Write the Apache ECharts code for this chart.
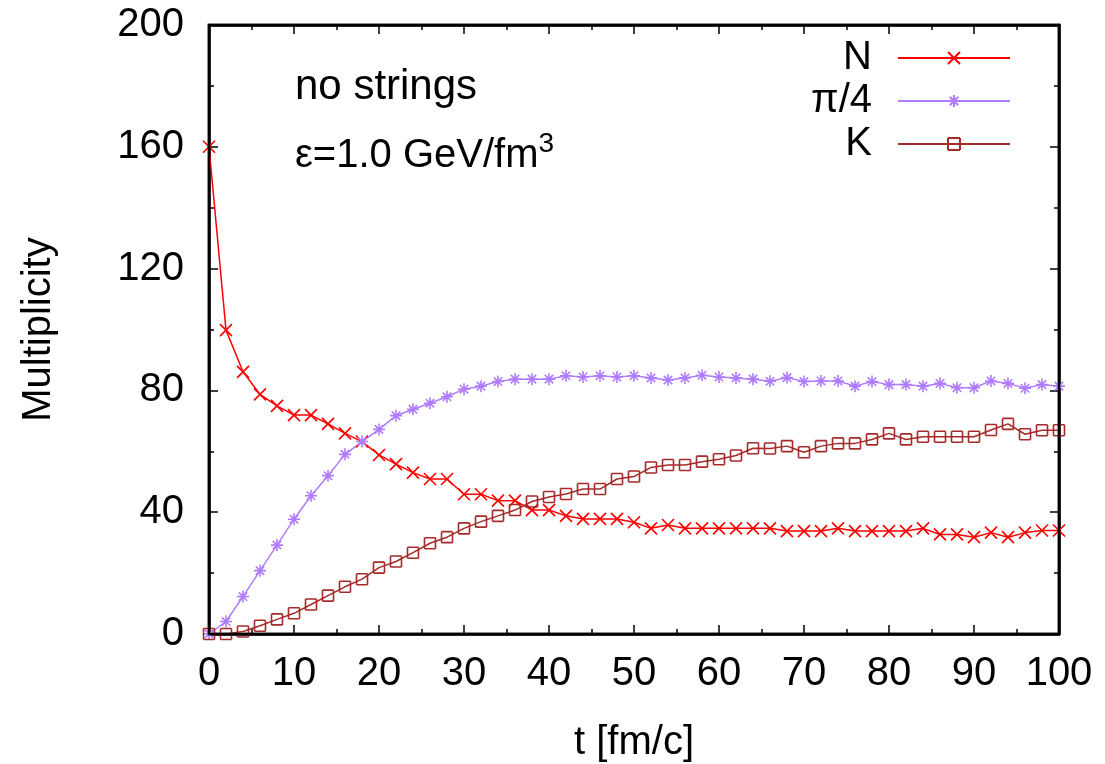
<!DOCTYPE html>
<html><head><meta charset="utf-8">
<script src="https://cdn.jsdelivr.net/npm/echarts@6/dist/echarts.min.js"></script>
<style>html,body{margin:0;padding:0;background:#fff}#c{width:1105px;height:764px;background:#fff}</style>
</head><body><div id="c"></div>
<script>
const tValues = [0,2,4,6,8,10,12,14,16,18,20,22,24,26,28,30,32,34,36,38,40,42,44,46,48,50,52,54,56,58,60,62,64,66,68,70,72,74,76,78,80,82,84,86,88,90,92,94,96,98,100];
const nValues = [160,99.8,86.1,78.7,74.9,71.9,71.9,69.0,65.9,63.2,58.8,55.8,53.0,50.9,50.9,45.9,45.9,43.8,43.8,40.7,40.7,38.8,37.8,37.8,37.8,36.7,34.7,35.8,34.7,34.7,34.7,34.7,34.7,34.7,33.8,33.8,33.8,34.7,33.8,33.8,33.8,33.8,34.7,32.7,32.7,31.8,33.3,31.8,33.3,34.0,34.0];
const piValues = [0,4.1,12.3,20.8,29.2,37.7,45.4,52.0,59.0,63.2,67.2,71.7,73.8,75.8,77.9,80.4,81.4,82.9,83.7,83.7,83.7,84.8,84.4,84.8,84.4,84.8,84.1,83.4,84.1,85.0,84.4,84.1,83.7,83.0,84.2,82.9,83.1,83.1,81.4,82.9,81.9,81.9,81.4,82.3,80.9,80.9,83.1,82.3,80.7,81.9,81.4];
const kValues = [0,0,0.8,2.7,4.8,6.8,9.7,12.6,15.5,18.0,21.8,23.8,26.7,29.8,31.8,34.7,36.9,38.8,40.7,43.5,45.0,46.0,47.6,47.6,50.9,51.7,54.7,55.5,55.5,56.6,57.4,58.6,61.0,60.9,61.7,59.7,61.7,62.6,62.6,63.9,65.9,63.9,64.8,64.8,64.8,64.8,67.0,69.0,65.6,66.9,66.9];
const seriesNames = ['N', 'π/4', 'K'];
const seriesColors = ['#ff0000', '#b07cff', '#a52a2a'];
const xTitle = 't [fm/c]';
const yTitle = 'Multiplicity';
const note1 = 'no strings';
const note2 = 'ε=1.0 GeV/fm';

const FONT = 'Liberation Sans';
const crossPath = 'path://M0,0L10,10M10,0L0,10';
const starPath = 'path://M0,5L10,5M5,0L5,10M1.5,1.5L8.5,8.5M8.5,1.5L1.5,8.5';
const squarePath = 'path://M0,0L10,0M10,0L10,10M10,10L0,10M0,10L0,0';
const symbols = [crossPath, starPath, squarePath];
const symbolSizes = [12, 12, 11];
const allValues = [nValues, piValues, kValues];

const GRID = { left: 209, right: 46, top: 25, bottom: 130 };
const W = 1105, H = 764;

function axisCommon(labelColor, margin) {
  return {
    axisLine: { show: true, onZero: false, lineStyle: { color: '#000', width: 2.5 } },
    axisTick: { show: true, inside: true, length: 9, lineStyle: { color: '#000', width: 1.5 } },
    minorTick: { show: true, splitNumber: 2, length: 5, lineStyle: { color: '#000', width: 1.5 } },
    splitLine: { show: false },
    axisLabel: { show: true, color: labelColor, fontSize: 40, fontFamily: FONT, margin: margin }
  };
}

const chart = echarts.init(document.getElementById('c'));
const option = {
  animation: false,
  grid: Object.assign({ outerBoundsMode: 'none', show: true, borderColor: '#000', borderWidth: 2.5,
          backgroundColor: 'transparent' }, GRID),
  xAxis: [
    Object.assign({ type: 'value', position: 'bottom', min: 0, max: 100, interval: 10,
      name: xTitle, nameLocation: 'middle', nameGap: 89,
      nameTextStyle: { fontSize: 40, color: '#000', fontFamily: FONT } }, axisCommon('#000', 20)),
    Object.assign({ type: 'value', position: 'top', min: 0, max: 100, interval: 10 }, axisCommon('rgba(0,0,0,0)', 8))
  ],
  yAxis: [
    Object.assign({ type: 'value', position: 'left', min: 0, max: 200, interval: 40,
      name: yTitle, nameLocation: 'middle', nameGap: 150,
      nameTextStyle: { fontSize: 40, color: '#000', fontFamily: FONT } }, axisCommon('#000', 25)),
    Object.assign({ type: 'value', position: 'right', min: 0, max: 200, interval: 40 }, axisCommon('rgba(0,0,0,0)', 8))
  ],
  legend: {
    orient: 'vertical', align: 'right', right: 89, top: 33,
    itemWidth: 112, itemHeight: 15, itemGap: 3, selectedMode: false,
    textStyle: { fontSize: 40, color: '#000', fontFamily: FONT, lineHeight: 40, padding: [0, 21, 0, 0] },
    data: seriesNames
  },
  graphic: [
    { type: 'rect', z: 100, silent: true,
      shape: { x: GRID.left, y: GRID.top, width: W - GRID.left - GRID.right, height: H - GRID.top - GRID.bottom },
      style: { fill: 'none', stroke: '#000', lineWidth: 2.5 } },
    { type: 'text', left: 295, top: 66, style: { text: note1, font: '42px "Liberation Sans"', fill: '#000' } },
    { type: 'text', left: 295, top: 130, style: {
      text: '{a|' + note2 + '}{s|3}', fill: '#000',
      rich: { a: { fontSize: 40, fontFamily: FONT, verticalAlign: 'bottom', lineHeight: 46 },
              s: { fontSize: 28, fontFamily: FONT, verticalAlign: 'top', lineHeight: 46 } } } }
  ],
  series: seriesNames.map((name, k) => ({
    name: name, type: 'line', xAxisIndex: 0, yAxisIndex: 0,
    data: tValues.map((t, i) => [t, allValues[k][i]]),
    symbol: symbols[k], symbolSize: symbolSizes[k], showAllSymbol: true,
    lineStyle: { color: seriesColors[k], width: 1.5 },
    itemStyle: { color: seriesColors[k], borderColor: seriesColors[k], borderWidth: 1.6 },
    emphasis: { disabled: true }
  }))
};
chart.setOption(option);
</script>
</body></html>
